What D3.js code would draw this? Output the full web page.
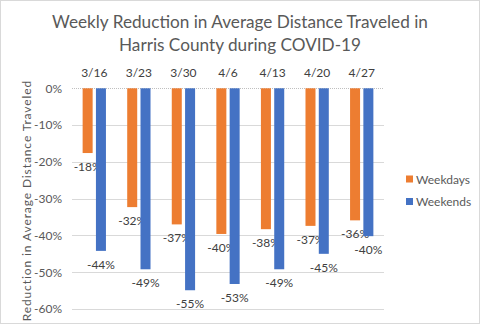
<!DOCTYPE html>
<html><head><meta charset="utf-8">
<script src="https://cdn.jsdelivr.net/npm/d3@7"></script>
<style>body{margin:0;background:#fff;} svg{display:block;font-family:Lato,"Open Sans",sans-serif;}</style>
</head><body>
<script>
const categories = ["3/16","3/23","3/30","4/6","4/13","4/20","4/27"];
const seriesNames = ["Weekdays","Weekends"];
const weekdays = [-17.6,-32.3,-37,-39.6,-38.3,-37.4,-35.9];
const weekends = [-44.2,-49.2,-54.9,-53.2,-49.2,-45,-40.2];
const yTicks = [0,-10,-20,-30,-40,-50,-60];
const colors = ["#ED7D31","#4472C4"];

const W=480,H=324;
const svg=d3.select("body").append("svg").attr("width",W).attr("height",H);
svg.append("rect").attr("x",0.5).attr("y",0.5).attr("width",W-1).attr("height",H-1).attr("fill","#fff").attr("stroke","#d9d9d9");

const plot={l:72,r:384,t:88.3,b:309};
const y=d3.scaleLinear().domain([0,-60]).range([plot.t,plot.b]);
const x0=d3.scaleBand().domain(categories).range([plot.l,plot.r]).paddingInner(0.477).paddingOuter(0.2385);
const x1=d3.scaleBand().domain(seriesNames).range([0,x0.bandwidth()]).paddingInner(0.248);

// title
const title=svg.append("text").attr("text-anchor","middle").attr("fill","#595959").attr("font-size",17.2);
title.append("tspan").attr("x",240).attr("y",28).text("Weekly Reduction in Average Distance Traveled in");
title.append("tspan").attr("x",240).attr("y",51).text("Harris County during COVID-19");

// gridlines
svg.append("g").selectAll("line").data(yTicks.filter(d=>d!==0)).join("line")
 .attr("x1",plot.l).attr("x2",plot.r).attr("y1",d=>Math.round(y(d))+0.5).attr("y2",d=>Math.round(y(d))+0.5)
 .attr("stroke","#d9d9d9");
svg.append("line").attr("x1",plot.l).attr("x2",plot.r).attr("y1",Math.round(y(0))+0.5).attr("y2",Math.round(y(0))+0.5)
 .attr("stroke","#bfbfbf").attr("stroke-dasharray","1,1");

// y axis labels
const yAxis=d3.axisLeft(y).tickValues(yTicks).tickFormat(d=>d+"%").tickSize(0).tickPadding(10);
const ya=svg.append("g").attr("transform",`translate(${plot.l},0)`).call(yAxis);
ya.select(".domain").remove();
ya.selectAll("text").attr("fill","#595959").attr("font-size",12).attr("font-family","Lato,'Open Sans',sans-serif");

// category labels at top
const xAxis=d3.axisTop(x0).tickSize(0).tickPadding(0);
const xa=svg.append("g").attr("transform",`translate(0,77)`).call(xAxis);
xa.select(".domain").remove();
xa.selectAll("text").attr("fill","#404040").attr("font-size",12).attr("font-family","Lato,'Open Sans',sans-serif").attr("dy",0);

// y axis title
svg.append("text").attr("transform",`translate(31,${(plot.t+plot.b)/2+2}) rotate(-90)`)
 .attr("text-anchor","middle").attr("fill","#595959").attr("font-size",12).attr("letter-spacing",0.9)
 .text("Reduction in Average Distance Traveled");

const data=[weekdays,weekends];
data.forEach((vals,si)=>{
  const g=svg.append("g");
  g.selectAll("rect").data(vals).join("rect")
   .attr("x",(d,i)=>x0(categories[i])+x1(seriesNames[si]))
   .attr("width",x1.bandwidth())
   .attr("y",y(0)).attr("height",d=>y(d)-y(0))
   .attr("fill",colors[si]);
  g.selectAll("text").data(vals).join("text")
   .attr("x",(d,i)=>x0(categories[i])+x1(seriesNames[si])+x1.bandwidth()/2)
   .attr("y",d=>y(d)+18)
   .attr("text-anchor","middle").attr("fill","#404040").attr("font-size",12)
   .text(d=>Math.round(d)+"%");
});

// legend
const lg=svg.append("g");
seriesNames.forEach((s,i)=>{
  const yy=179+i*22.5;
  lg.append("rect").attr("x",406).attr("y",yy-3.5).attr("width",7).attr("height",7).attr("fill",colors[i]);
  lg.append("text").attr("x",416).attr("y",yy+4.5).attr("fill","#595959").attr("font-size",12).text(s);
});
</script>
</body></html>
